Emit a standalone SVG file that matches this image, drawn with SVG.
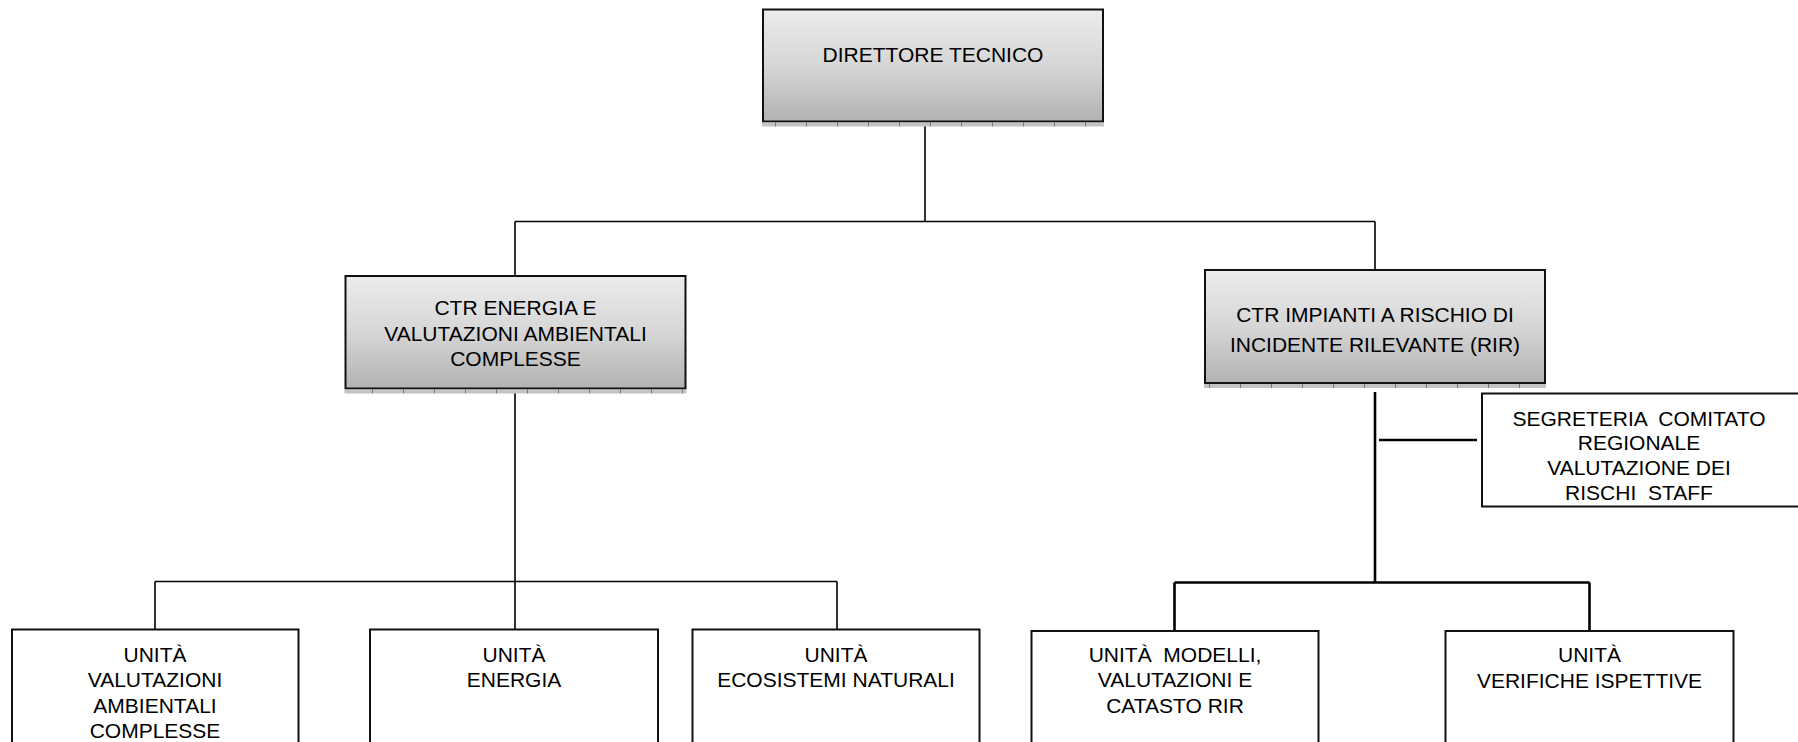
<svg xmlns="http://www.w3.org/2000/svg" width="1798" height="742" viewBox="0 0 1798 742">
<defs>
<linearGradient id="g" x1="0" y1="0" x2="0" y2="1">
<stop offset="0" stop-color="#ececec"/>
<stop offset="0.5" stop-color="#d6d6d6"/>
<stop offset="1" stop-color="#b2b2b2"/>
</linearGradient>
<pattern id="sh" x="0" y="0" width="31" height="5" patternUnits="userSpaceOnUse">
<rect width="31" height="5" fill="#c4c4c4"/>
<rect x="0" width="1" height="5" fill="#7a7a7a"/>
</pattern>
</defs>
<style>
text{font-family:"Liberation Sans",Arial,sans-serif;font-size:21px;fill:#000;text-anchor:middle;white-space:pre}
.gb{fill:url(#g);stroke:#111;stroke-width:2}
.wb{fill:#fff;stroke:#111;stroke-width:2}
.shadow{fill:url(#sh)}
.c{fill:none;stroke:#000;stroke-width:1.6}
.ct{fill:none;stroke:#000;stroke-width:2.6}
</style>
<rect width="1798" height="742" fill="#fff"/>
<g id="connectors">
<path class="c" d="M925 126V221.5M515 221.5H1375M515 221.5V276M1375 221.5V270"/>
<path class="c" d="M515 392V629M155 581.5H837M155 581.5V629M837 581.5V629"/>
<path class="ct" d="M1375 392V582.5M1379 440H1477M1174.5 582.5H1589.5M1174.5 582.5V630.5M1589.5 582.5V631"/>
</g>
<g id="direttore">
<rect class="gb" x="763" y="9.5" width="340" height="112"/>
<rect class="shadow" x="762" y="122.5" width="342" height="4"/>
<text x="933" y="62">DIRETTORE TECNICO</text>
</g>
<g id="ctr-energia">
<rect class="gb" x="345.5" y="276" width="340" height="112.5"/>
<rect class="shadow" x="344.5" y="389.5" width="342" height="4"/>
<text x="515.5" y="315">CTR ENERGIA E</text>
<text x="515.5" y="341">VALUTAZIONI AMBIENTALI</text>
<text x="515.5" y="366">COMPLESSE</text>
</g>
<g id="ctr-impianti">
<rect class="gb" x="1205" y="270" width="340" height="113"/>
<rect class="shadow" x="1204" y="384" width="342" height="4"/>
<text x="1375" y="321.5">CTR IMPIANTI A RISCHIO DI</text>
<text x="1375" y="352">INCIDENTE RILEVANTE (RIR)</text>
</g>
<g id="segreteria">
<rect class="wb" x="1482" y="393.5" width="320" height="113"/>
<text x="1639" y="425.5">SEGRETERIA  COMITATO</text>
<text x="1639" y="450">REGIONALE</text>
<text x="1639" y="474.5">VALUTAZIONE DEI</text>
<text x="1639" y="499.5">RISCHI  STAFF</text>
</g>
<g id="unita-valutazioni">
<rect class="wb" x="12" y="629.5" width="286.5" height="130"/>
<text x="155" y="661.5">UNITÀ</text>
<text x="155" y="687">VALUTAZIONI</text>
<text x="155" y="712.5">AMBIENTALI</text>
<text x="155" y="737.5">COMPLESSE</text>
</g>
<g id="unita-energia">
<rect class="wb" x="370" y="629.5" width="288" height="130"/>
<text x="514" y="661.5">UNITÀ</text>
<text x="514" y="687">ENERGIA</text>
</g>
<g id="unita-ecosistemi">
<rect class="wb" x="692.5" y="629.5" width="287" height="130"/>
<text x="836" y="661.5">UNITÀ</text>
<text x="836" y="687">ECOSISTEMI NATURALI</text>
</g>
<g id="unita-modelli">
<rect class="wb" x="1031.5" y="631" width="287" height="130"/>
<text x="1175" y="661.5">UNITÀ  MODELLI,</text>
<text x="1175" y="687">VALUTAZIONI E</text>
<text x="1175" y="712.5">CATASTO RIR</text>
</g>
<g id="unita-verifiche">
<rect class="wb" x="1445.5" y="631" width="288" height="130"/>
<text x="1589.5" y="662">UNITÀ</text>
<text x="1589.5" y="687.5">VERIFICHE ISPETTIVE</text>
</g>
</svg>
